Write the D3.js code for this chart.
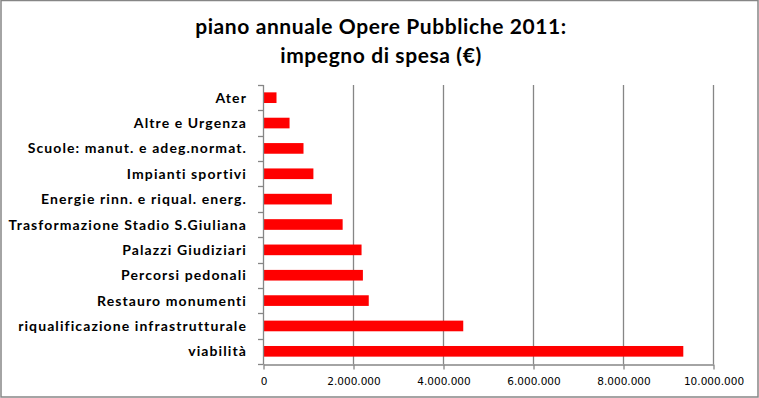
<!DOCTYPE html>
<html><head><meta charset="utf-8">
<script src="https://cdn.jsdelivr.net/npm/d3@7"></script>
<style>body{margin:0;background:#fff}svg{display:block}</style>
</head><body>
<svg id="c" width="759" height="398"></svg>
<script>
const categories = ["Ater","Altre e Urgenza","Scuole: manut. e adeg.normat.","Impianti sportivi","Energie rinn. e riqual. energ.","Trasformazione Stadio S.Giuliana","Palazzi Giudiziari","Percorsi pedonali","Restauro monumenti","riqualificazione infrastrutturale","viabilità"];
const values = [300000, 590000, 900000, 1120000, 1530000, 1770000, 2190000, 2220000, 2350000, 4450000, 9340000];
const tickValues = [0, 2000000, 4000000, 6000000, 8000000, 10000000];
const titleLines = ["piano annuale Opere Pubbliche 2011:", "impegno di spesa (€)"];

(function(){
const svg = d3.select("#c");
const grey = "#868686";
svg.append("rect").attr("x",1).attr("y",0.5).attr("width",757).attr("height",396.5)
  .attr("fill","#fff").attr("stroke",grey).attr("stroke-width",1.5);

const pL = 263, pR = 713, pT = 85, pB = 364;
const x = d3.scaleLinear().domain([0, 10000000]).range([pL, pR]);
const y = d3.scaleBand().domain(categories).range([pT, pB]).paddingInner(0.58).paddingOuter(0.29);

// gridlines
svg.append("g").selectAll("line").data(tickValues.slice(1)).join("line")
  .attr("x1", d => x(d)+0.5).attr("x2", d => x(d)+0.5).attr("y1", pT).attr("y2", pB)
  .attr("stroke", grey).attr("stroke-width", 1.3);

// bars
svg.append("g").selectAll("rect").data(values).join("rect")
  .attr("x", x(0)).attr("y", (d,i) => y(categories[i]))
  .attr("width", d => x(d) - x(0)).attr("height", y.bandwidth())
  .attr("fill", "#ff0000");

// x axis
const xAxis = d3.axisBottom(x).tickValues(tickValues).tickSize(5).tickSizeOuter(0)
  .tickFormat(d => d3.format(",")(d).replace(/,/g, "."));
const gx = svg.append("g").attr("transform", `translate(0.5,${pB+0.5})`).call(xAxis);
gx.select(".domain").attr("stroke", grey).attr("stroke-width", 1.3);
gx.selectAll(".tick line").attr("stroke", grey).attr("stroke-width", 1.3);
gx.selectAll(".tick text").attr("font-family","Verdana, 'DejaVu Sans', sans-serif").attr("font-size", 10.5)
  .attr("fill","#000").attr("dy", "0.71em").attr("y", 13);

// y axis
const yTicks = d3.range(categories.length + 1).map(i => pT + i * (pB - pT) / categories.length);
const gy = svg.append("g");
gy.append("line").attr("x1", pL+0.5).attr("x2", pL+0.5).attr("y1", pT).attr("y2", pB+0.5)
  .attr("stroke", grey).attr("stroke-width", 1.3);
gy.selectAll("line.t").data(yTicks).join("line").attr("class","t")
  .attr("x1", pL-5).attr("x2", pL+0.5).attr("y1", d => Math.round(d)+0.5).attr("y2", d => Math.round(d)+0.5)
  .attr("stroke", grey).attr("stroke-width", 1.3);
gy.selectAll("text").data(categories).join("text")
  .attr("x", 247).attr("y", d => y(d) + y.bandwidth()/2).attr("dy","0.36em")
  .attr("text-anchor","end").attr("font-family","Lato, 'Open Sans', sans-serif").attr("font-weight","bold")
  .attr("font-size", 14).attr("letter-spacing", "1.1px").attr("fill","#000").text(d => d);

// title
svg.append("g").selectAll("text").data(titleLines).join("text")
  .attr("x", 381).attr("y", (d,i) => 34 + i*28.5).attr("text-anchor","middle")
  .attr("font-family","Lato, 'Open Sans', sans-serif").attr("font-weight","bold")
  .attr("font-size", 21).attr("letter-spacing", "0.6px").attr("fill","#000").text(d => d);
})();
</script>
</body></html>
